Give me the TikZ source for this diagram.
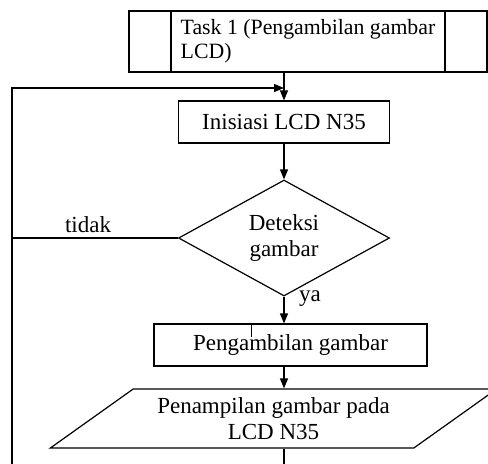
\documentclass[tikz,border=0pt]{standalone}
\usepackage{fontspec}
\setmainfont{Liberation Serif}
\usetikzlibrary{positioning, arrows.meta, shapes.geometric, calc}
\tikzset{
    % Basic node styles
    box/.style={rectangle, draw, line width=0.6pt, minimum height=21pt,
                font=\fontsize{11.5}{13}\selectfont, inner sep=2pt},
    predef/.style={box, align=left, inner sep=0pt,
                   path picture={\draw[line width=0.6pt]
                   ([xshift=21pt]path picture bounding box.north west) --
                   ([xshift=21pt]path picture bounding box.south west)
                   ([xshift=-21pt]path picture bounding box.north east) --
                   ([xshift=-21pt]path picture bounding box.south east);}},
    decision/.style={diamond, draw, line width=0.6pt, aspect=1.82, inner sep=1pt,
                     align=center, font=\fontsize{11.5}{13}\selectfont},
    io/.style={trapezium, draw, line width=0.6pt, trapezium left angle=33.5,
               trapezium right angle=146.5, trapezium stretches=true,
               align=center, font=\fontsize{11.5}{13}\selectfont, inner sep=1pt},
    % Arrow styles
    line/.style={line width=0.6pt},
    arrow/.style={line, -{Triangle[length=5pt, width=4pt]}},
    annot/.style={font=\fontsize{11.5}{13}\selectfont, inner sep=0pt},
}
\begin{document}
\begin{tikzpicture}[x=0.5pt, y=-0.5pt]
    \useasboundingbox (0,0) rectangle (488,463);
    \clip (0,0) rectangle (488,463);

    % Task
    \node[predef, minimum width=179pt, minimum height=30.5pt,
          font=\fontsize{10.9}{12}\selectfont] (task) at (308, 41.5)
        {Task 1 (Pengambilan gambar\\LCD)};

    % Steps
    \node[box, minimum width=105.5pt] (init) at (284, 122) {Inisiasi LCD N35};
    \node[decision, minimum width=105.5pt, minimum height=58pt] (detect) at (284, 238)
        {Deteksi\\gambar};
    \node[box, minimum width=136.5pt] (take) at (290.5, 345) {Pengambilan gambar};
    \node[io, minimum width=223.5pt, minimum height=29.5pt] (show) at (273.5, 418.5)
        {Penampilan gambar pada\\LCD N35};

    % Loop points
    \coordinate (loop top) at (12, 88);
    \coordinate (loop bottom) at (12, 480);
    \coordinate (out) at (284, 480);

    % Labels
    \node[annot] (no) at (88, 225) {tidak};
    \node[annot] (yes) at (310, 299) {ya};

    % Arrows
    \draw[arrow] (task.south -| init.north) -- (init.north);
    \draw[arrow] (loop bottom) -- (loop top) -- (loop top -| init.north);
    \draw[arrow] (init) -- (detect);
    \draw[line] (detect.west) -- (detect.west -| loop top);
    \draw[arrow] (detect.south) -- (detect.south |- take.north);
    \draw[line] ([xshift=-19.5pt]take.north) -- ++(0, 14);
    \draw[arrow] (take.south -| init.north) -- (show.north -| init.north);
    \draw[line] (show.south -| init.north) -- (out);
\end{tikzpicture}
\end{document}
